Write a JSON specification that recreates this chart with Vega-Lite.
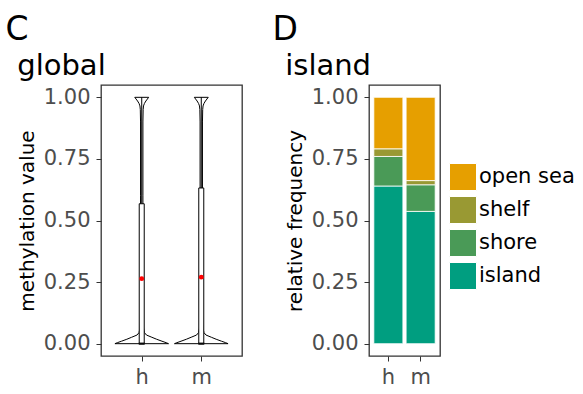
{
  "$schema": "https://vega.github.io/schema/vega-lite/v6.json",
  "padding": {"left": 5, "top": 14, "right": 5, "bottom": 5},
  "background": "white",
  "config": {
    "font": "DejaVu Sans",
    "view": {"stroke": "#333333", "strokeWidth": 1.3},
    "axis": {"domain": false, "grid": false, "labelColor": "#4D4D4D", "labelFontSize": 21, "tickColor": "#333333", "tickSize": 5, "labelPadding": 6, "titleFontSize": 20, "titleFontWeight": "normal", "titleColor": "black", "titlePadding": 6},
    "axisX": {"labelPadding": 5},
    "title": {"color": "black", "fontWeight": "normal"},
    "concat": {"spacing": 29}
  },
  "datasets": {
    "violin": [
      {"group": "h", "value": 0.0, "lo": 0.55, "hi": 1.45},
      {"group": "h", "value": 0.004, "lo": 0.59, "hi": 1.41},
      {"group": "h", "value": 0.01, "lo": 0.66, "hi": 1.34},
      {"group": "h", "value": 0.018, "lo": 0.75, "hi": 1.25},
      {"group": "h", "value": 0.026, "lo": 0.83, "hi": 1.17},
      {"group": "h", "value": 0.035, "lo": 0.92, "hi": 1.08},
      {"group": "h", "value": 0.045, "lo": 0.955, "hi": 1.045},
      {"group": "h", "value": 0.06, "lo": 0.968, "hi": 1.032},
      {"group": "h", "value": 0.08, "lo": 0.974, "hi": 1.026},
      {"group": "h", "value": 0.12, "lo": 0.978, "hi": 1.022},
      {"group": "h", "value": 0.3, "lo": 0.98, "hi": 1.02},
      {"group": "h", "value": 0.6, "lo": 0.98, "hi": 1.02},
      {"group": "h", "value": 0.9, "lo": 0.98, "hi": 1.02},
      {"group": "h", "value": 0.95, "lo": 0.976, "hi": 1.024},
      {"group": "h", "value": 0.965, "lo": 0.97, "hi": 1.03},
      {"group": "h", "value": 0.975, "lo": 0.955, "hi": 1.045},
      {"group": "h", "value": 0.985, "lo": 0.93, "hi": 1.07},
      {"group": "h", "value": 0.993, "lo": 0.905, "hi": 1.095},
      {"group": "h", "value": 1.0, "lo": 0.883, "hi": 1.117},
      {"group": "m", "value": 0.0, "lo": 1.55, "hi": 2.45},
      {"group": "m", "value": 0.004, "lo": 1.59, "hi": 2.41},
      {"group": "m", "value": 0.01, "lo": 1.66, "hi": 2.34},
      {"group": "m", "value": 0.018, "lo": 1.75, "hi": 2.25},
      {"group": "m", "value": 0.026, "lo": 1.83, "hi": 2.17},
      {"group": "m", "value": 0.035, "lo": 1.92, "hi": 2.08},
      {"group": "m", "value": 0.045, "lo": 1.955, "hi": 2.045},
      {"group": "m", "value": 0.06, "lo": 1.968, "hi": 2.032},
      {"group": "m", "value": 0.08, "lo": 1.974, "hi": 2.026},
      {"group": "m", "value": 0.12, "lo": 1.978, "hi": 2.022},
      {"group": "m", "value": 0.3, "lo": 1.98, "hi": 2.02},
      {"group": "m", "value": 0.6, "lo": 1.98, "hi": 2.02},
      {"group": "m", "value": 0.9, "lo": 1.98, "hi": 2.02},
      {"group": "m", "value": 0.95, "lo": 1.976, "hi": 2.024},
      {"group": "m", "value": 0.965, "lo": 1.97, "hi": 2.03},
      {"group": "m", "value": 0.975, "lo": 1.955, "hi": 2.045},
      {"group": "m", "value": 0.985, "lo": 1.93, "hi": 2.07},
      {"group": "m", "value": 0.993, "lo": 1.905, "hi": 2.095},
      {"group": "m", "value": 1.0, "lo": 1.883, "hi": 2.117}
    ],
    "box": [
      {"group": "h", "pos": 1, "q1": 0.0, "median": 0.0, "q3": 0.568, "upper": 1.0, "mean": 0.264},
      {"group": "m", "pos": 2, "q1": 0.0, "median": 0.0, "q3": 0.632, "upper": 1.0, "mean": 0.27}
    ],
    "freq": [
      {"group": "h", "region": "island", "rank": 1, "freq": 0.64},
      {"group": "h", "region": "shore", "rank": 2, "freq": 0.12},
      {"group": "h", "region": "shelf", "rank": 3, "freq": 0.031},
      {"group": "h", "region": "open sea", "rank": 4, "freq": 0.209},
      {"group": "m", "region": "island", "rank": 1, "freq": 0.537},
      {"group": "m", "region": "shore", "rank": 2, "freq": 0.108},
      {"group": "m", "region": "shelf", "rank": 3, "freq": 0.017},
      {"group": "m", "region": "open sea", "rank": 4, "freq": 0.338}
    ]
  },
  "hconcat": [
    {
      "title": {"text": "C", "fontSize": 33, "anchor": "start", "offset": 4, "dx": -11},
      "vconcat": [
        {
          "width": 141,
          "height": 271,
          "title": {"text": "global", "fontSize": 29, "anchor": "start", "offset": 4},
          "layer": [
            {
              "data": {"name": "violin"},
              "mark": {"type": "area", "orient": "horizontal", "fill": "white", "stroke": "black", "strokeWidth": 1},
              "encoding": {
                "y": {"field": "value", "type": "quantitative", "scale": {"domain": [-0.05, 1.05], "nice": false, "zero": false}, "axis": {"values": [0, 0.25, 0.5, 0.75, 1], "format": ".2f", "title": "methylation value"}},
                "x": {"field": "lo", "type": "quantitative", "scale": {"domain": [0.4, 2.6], "nice": false, "zero": false}, "axis": {"values": [1, 2], "labelExpr": "datum.value == 1 ? 'h' : 'm'", "title": null}},
                "x2": {"field": "hi"},
                "detail": {"field": "group"}
              }
            },
            {
              "data": {"name": "box"},
              "mark": {"type": "rule", "color": "black", "strokeWidth": 1},
              "encoding": {
                "x": {"field": "pos", "type": "quantitative"},
                "y": {"field": "q3", "type": "quantitative"},
                "y2": {"field": "upper"}
              }
            },
            {
              "data": {"name": "box"},
              "mark": {"type": "bar", "width": 5, "fill": "white", "stroke": "black", "strokeWidth": 1},
              "encoding": {
                "x": {"field": "pos", "type": "quantitative"},
                "y": {"field": "q1", "type": "quantitative"},
                "y2": {"field": "q3"}
              }
            },
            {
              "data": {"name": "box"},
              "mark": {"type": "tick", "orient": "horizontal", "size": 6, "thickness": 2.5, "color": "black"},
              "encoding": {
                "x": {"field": "pos", "type": "quantitative"},
                "y": {"field": "median", "type": "quantitative"}
              }
            },
            {
              "data": {"name": "box"},
              "mark": {"type": "point", "filled": true, "color": "red", "size": 24, "opacity": 1},
              "encoding": {
                "x": {"field": "pos", "type": "quantitative"},
                "y": {"field": "mean", "type": "quantitative"}
              }
            }
          ]
        }
      ]
    },
    {
      "title": {"text": "D", "fontSize": 33, "anchor": "start", "offset": 4, "dx": -12},
      "vconcat": [
        {
          "width": 71,
          "height": 271,
          "title": {"text": "island", "fontSize": 29, "anchor": "start", "offset": 4},
          "data": {"name": "freq"},
          "mark": {"type": "bar", "stroke": "white", "strokeWidth": 0.8},
          "encoding": {
            "x": {"field": "group", "type": "nominal", "scale": {"paddingInner": 0.1, "paddingOuter": 0.15}, "axis": {"title": null, "labelAngle": 0}},
            "y": {"field": "freq", "type": "quantitative", "stack": "zero", "scale": {"domain": [-0.05, 1.05], "nice": false, "zero": false}, "axis": {"values": [0, 0.25, 0.5, 0.75, 1], "format": ".2f", "title": "relative frequency"}},
            "color": {"field": "region", "type": "nominal", "scale": {"domain": ["open sea", "shelf", "shore", "island"], "range": ["#E69F00", "#999933", "#4A9A57", "#009E80"]}, "legend": {"title": null, "orient": "none", "legendX": 348, "legendY": 78, "symbolType": "square", "symbolSize": 729, "symbolStrokeColor": "white", "symbolStrokeWidth": 1, "symbolOpacity": 1, "labelFontSize": 21, "labelColor": "black", "rowPadding": 1, "labelOffset": 2}},
            "order": {"field": "rank", "type": "quantitative"}
          }
        }
      ]
    }
  ]
}
